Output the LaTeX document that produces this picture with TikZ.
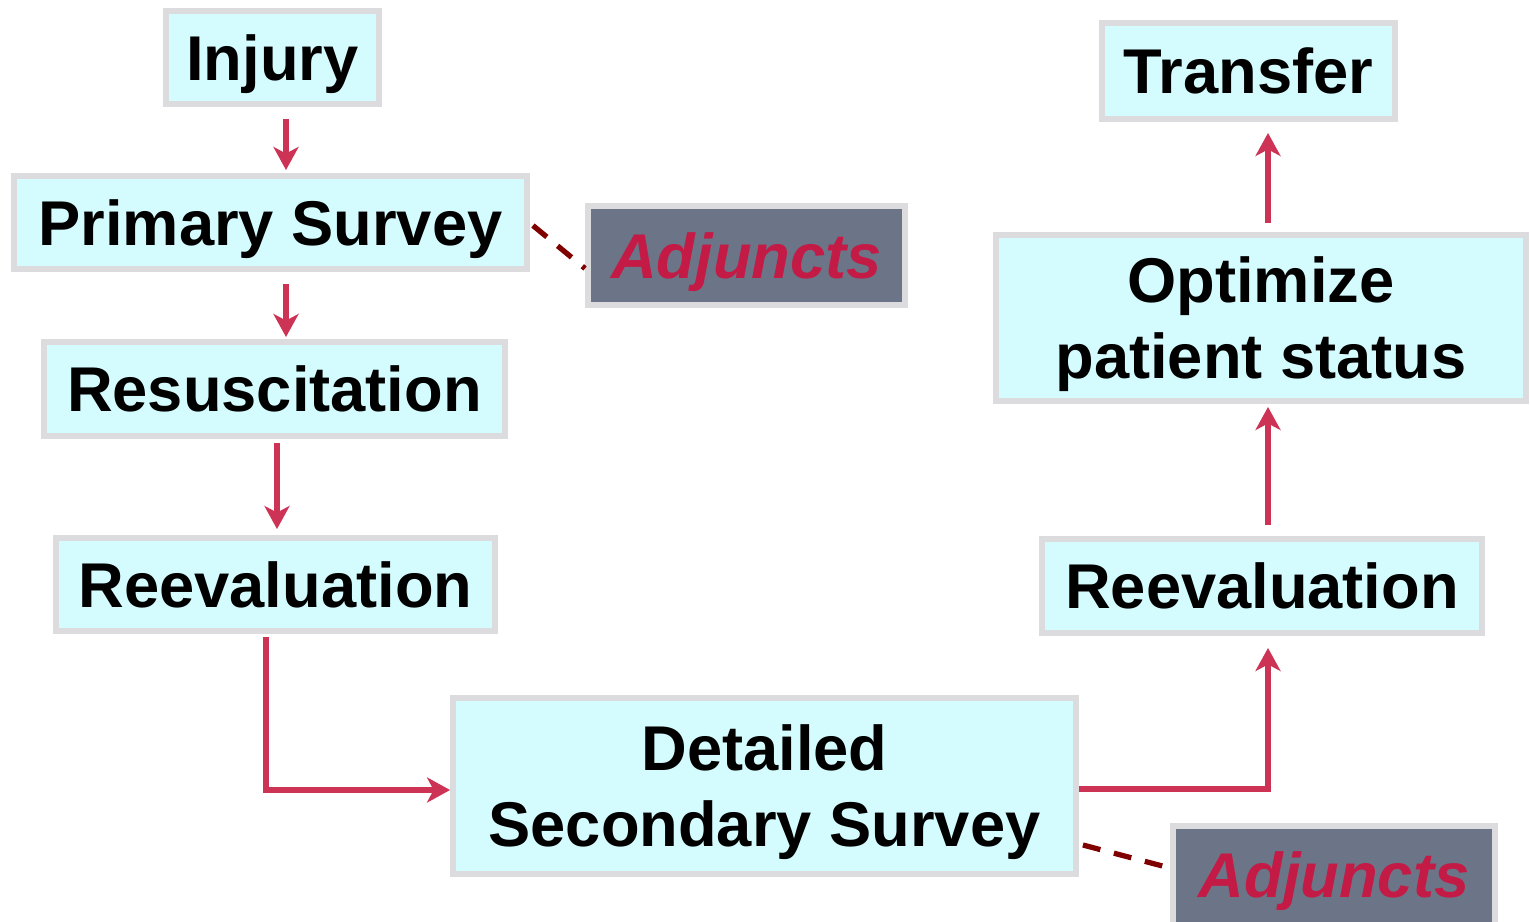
\documentclass[tikz,border=0pt]{standalone}
\usepackage{fontspec}
\setmainfont{Liberation Sans}
\usetikzlibrary{arrows.meta,calc}
\definecolor{boxfill}{HTML}{D4FCFE}
\definecolor{boxline}{HTML}{DCDCDE}
\definecolor{adjfill}{HTML}{6B7587}
\definecolor{adjtext}{HTML}{C41A46}
\definecolor{arrowc}{HTML}{CC3355}
\definecolor{dashc}{HTML}{800000}
\begin{document}
\begin{tikzpicture}[x=0.02cm,y=-0.02cm,
 box/.style={draw=boxline, line width=3.4pt, fill=boxfill, font=\fontsize{36}{43.5}\selectfont\bfseries, align=center, inner sep=0pt, text height=25.8pt, text depth=0pt},
 twoline/.style={text height=69.3pt, text depth=0pt},
 adj/.style={draw=boxline, line width=3.4pt, fill=adjfill, text=adjtext, font=\fontsize{36}{42}\selectfont\bfseries\itshape, inner sep=0pt, text height=25.8pt, text depth=0pt},
 arr/.style={draw=arrowc, line width=3.8pt, -{Stealth[length=0.46cm,width=0.5cm,inset=0.13cm]}},
 dsh/.style={draw=dashc, line width=3pt, dash pattern=on 0.36cm off 0.28cm}]
\useasboundingbox (0,0) rectangle (1530,922);

\node[box, minimum width=4.26cm, minimum height=1.86cm] (injury) at (272.5,57.5) {Injury};
\node[box, minimum width=10.26cm, minimum height=1.86cm] (primary) at (270.5,222.5) {Primary Survey};
\node[adj, minimum width=6.34cm, minimum height=1.98cm] (adj1) at (746.5,255.5) {Adjuncts};
\node[box, minimum width=9.22cm, minimum height=1.88cm] (resus) at (274.5,389) {Resuscitation};
\node[box, minimum width=8.78cm, minimum height=1.86cm] (reevalL) at (275.5,584.5) {Reevaluation};
\node[box, twoline, minimum width=12.46cm, minimum height=3.52cm] (detailed) at (764.5,786) {Detailed\\Secondary Survey};
\node[adj, minimum width=6.44cm, minimum height=1.98cm] (adj2) at (1334,875) {Adjuncts};
\node[box, minimum width=8.80cm, minimum height=1.88cm] (reevalR) at (1262,586) {Reevaluation};
\node[box, twoline, minimum width=10.6cm, minimum height=3.32cm] (optimize) at (1261,318) {Optimize\\patient status};
\node[box, minimum width=5.86cm, minimum height=1.92cm] (transfer) at (1248.5,71) {Transfer};

\coordinate (c1) at (286,0);
\coordinate (c3) at (277,0);
\coordinate (c4) at (266,0);
\coordinate (c5) at (1268,0);

\draw[arr] ([yshift=-0.24cm]injury.south -| c1) -- ([yshift=0.06cm]primary.north -| c1);
\draw[arr] ([yshift=-0.24cm]primary.south -| c1) -- ([yshift=0.04cm]resus.north -| c1);
\draw[arr] ([yshift=-0.08cm]resus.south -| c3) -- ([yshift=0.12cm]reevalL.north -| c3);
\draw[arr] ([yshift=-0.06cm]reevalL.south -| c4) |- ([yshift=-0.08cm]detailed.west);
\draw[arr] ([yshift=-0.06cm]detailed.east) -| ([yshift=-0.24cm]reevalR.south -| c5);
\draw[arr] ([yshift=0.22cm]reevalR.north -| c5) -- ([yshift=-0.06cm]optimize.south -| c5);
\draw[arr] ([yshift=0.18cm]optimize.north -| c5) -- ([yshift=-0.22cm]transfer.south -| c5);

\draw[dsh] ([xshift=0.06cm,yshift=-0.06cm]primary.east) -- ([yshift=-0.26cm]adj1.west);
\draw[dsh] ([xshift=0.08cm,yshift=-1.18cm]detailed.east) -- ([yshift=0.14cm]adj2.west);
\end{tikzpicture}
\end{document}
